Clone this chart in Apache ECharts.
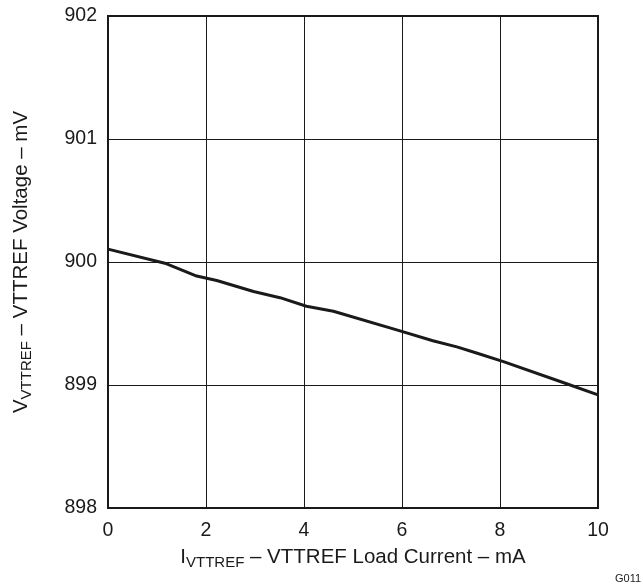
<!DOCTYPE html>
<html>
<head>
<meta charset="utf-8">
<script src="https://cdn.jsdelivr.net/npm/echarts@6/dist/echarts.min.js"></script>
<style>
  html, body { margin: 0; padding: 0; background: #fff; }
  #chart { width: 643px; height: 586px; }
</style>
</head>
<body>
<div id="chart"></div>
<script>
// load current (mA) and reference voltage (mV)
var current = [0, 1.16, 1.81, 2.22, 2.97, 3.51, 4.05, 4.6, 5.96, 6.63, 7.12, 7.52, 8.07, 9.36, 10];
var voltage = [900.105, 899.99, 899.886, 899.85, 899.76, 899.71, 899.64, 899.6, 899.44, 899.36, 899.31, 899.26, 899.19, 899.01, 898.92];

var points = current.map(function (c, i) { return [c, voltage[i]]; });

var chart = echarts.init(document.getElementById('chart'));
var font = 'Liberation Sans, Arial, sans-serif';

chart.setOption({
    animation: false,
    grid: { left: 108, right: 45, top: 16, bottom: 78 },
    xAxis: {
        type: 'value',
        min: 0, max: 10, interval: 2,
        axisLine: { show: false },
        axisTick: { show: false },
        splitLine: { show: true, lineStyle: { color: '#1a1a1a', width: 1 } },
        axisLabel: { color: '#1a1a1a', fontSize: 19.5, fontFamily: font, margin: 13 },
        name: '{m|I}{s|VTTREF}{m| – VTTREF Load Current – mA}',
        nameLocation: 'middle',
        nameGap: 36,
        nameTextStyle: {
            rich: {
                m: { fontSize: 20.5, fontFamily: font, color: '#1a1a1a' },
                s: { fontSize: 15, fontFamily: font, color: '#1a1a1a', padding: [11, 0, 0, 0] }
            }
        }
    },
    yAxis: {
        type: 'value',
        min: 898, max: 902, interval: 1,
        axisLine: { show: false },
        axisTick: { show: false },
        splitLine: { show: true, lineStyle: { color: '#1a1a1a', width: 1 } },
        axisLabel: { color: '#1a1a1a', fontSize: 19.5, fontFamily: font, margin: 11 },
        name: '{m|V}{s|VTTREF}{m| – VTTREF Voltage – mV}',
        nameLocation: 'middle',
        nameGap: 74,
        nameRotate: 90,
        nameTextStyle: {
            rich: {
                m: { fontSize: 20.5, fontFamily: font, color: '#1a1a1a' },
                s: { fontSize: 15, fontFamily: font, color: '#1a1a1a', padding: [11, 0, 0, 0] }
            }
        }
    },
    graphic: [
        {
            type: 'rect',
            shape: { x: 108, y: 16, width: 490, height: 492 },
            style: { fill: 'none', stroke: '#1a1a1a', lineWidth: 2 },
            z: 10
        },
        {
            type: 'text',
            left: 615, top: 573,
            style: { text: 'G011', fontSize: 11, fontFamily: font, fill: '#1a1a1a' }
        }
    ],
    series: [{
        type: 'line',
        data: points,
        showSymbol: false,
        lineStyle: { color: '#1a1a1a', width: 3 },
        z: 5
    }]
});
</script>
</body>
</html>
